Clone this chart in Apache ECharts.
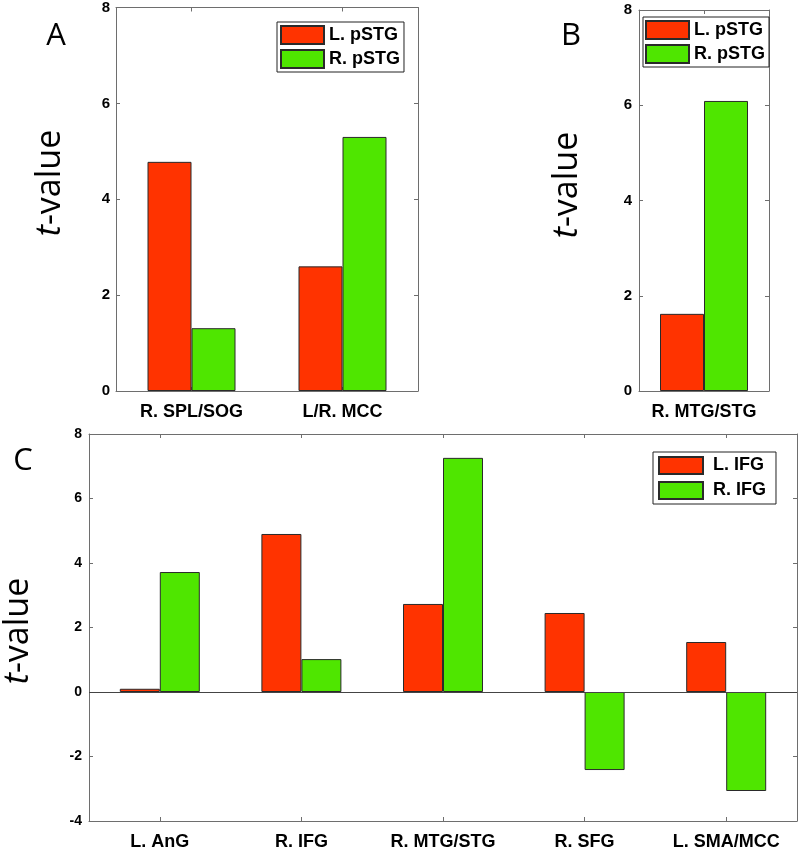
<!DOCTYPE html>
<html>
<head>
<meta charset="utf-8">
<script src="https://cdn.jsdelivr.net/npm/echarts@6/dist/echarts.min.js"></script>
<style>html,body{margin:0;padding:0;background:#fff;}#c{width:800px;height:852px;}</style>
</head>
<body>
<div id="c"></div>
<script>
// ---- data ----
const catsA = ['R. SPL/SOG', 'L/R. MCC'];
const lPstgA = [4.78, 2.6];
const rPstgA = [1.31, 5.3];
const catsB = ['R. MTG/STG'];
const lPstgB = [1.62];
const rPstgB = [6.09];
const catsC = ['L. AnG', 'R. IFG', 'R. MTG/STG', 'R. SFG', 'L. SMA/MCC'];
const lIfgC = [0.1, 4.9, 2.73, 2.45, 1.55];
const rIfgC = [3.72, 1.02, 7.26, -2.42, -3.07];
const ticksAB = [0, 2, 4, 6, 8];
const ticksC = [-4, -2, 0, 2, 4, 6, 8];

const RED = '#ff3300', GREEN = '#4fe600';
const AX = '#6e6e6e';
const FONT = '"Liberation Sans", Arial, sans-serif';

function catAxis(gi, data, pos, showLabel, fs) {
  return {
    type: 'category', gridIndex: gi, data: data, position: pos,
    axisLine: { show: true, onZero: false, lineStyle: { color: AX, width: 1 } },
    axisTick: { show: true, inside: true, alignWithLabel: true, length: 4, lineStyle: { color: AX } },
    axisLabel: { show: showLabel, fontFamily: FONT, fontWeight: 'bold', fontSize: fs, color: '#000', margin: 12 },
    splitLine: { show: false }
  };
}
function valAxis(gi, ticks, pos, showLabel, fs, margin) {
  return {
    type: 'value', gridIndex: gi, position: pos,
    min: ticks[0], max: ticks[ticks.length - 1], interval: ticks[1] - ticks[0],
    axisLine: { show: true, onZero: false, lineStyle: { color: AX, width: 1 } },
    axisTick: { show: true, inside: true, length: 4, lineStyle: { color: AX } },
    axisLabel: { show: showLabel, fontFamily: FONT, fontWeight: 'bold', fontSize: fs, color: '#000', margin: margin },
    splitLine: { show: false }
  };
}
function bar(name, data, xi, yi, color, bw) {
  return {
    type: 'bar', name: name, data: data, xAxisIndex: xi, yAxisIndex: yi,
    barWidth: bw, barGap: '0%',
    itemStyle: { color: color, borderColor: '#2a2a2a', borderWidth: 1 },
    emphasis: { disabled: true }, animation: false
  };
}
function legend(names, left, top, opts) {
  return Object.assign({
    data: names, orient: 'vertical', left: left, top: top,
    icon: 'rect', itemWidth: 43, itemHeight: 18, itemGap: 4,
    borderColor: '#222', borderWidth: 1, backgroundColor: '#fff',
    padding: [3, 4, 3, 3], selectedMode: false,
    textStyle: { fontFamily: FONT, fontWeight: 'bold', fontSize: 18, color: '#000' }
  }, opts || {});
}
function ytitle(x, y) {
  return {
    type: 'text', x: x, y: y, rotation: Math.PI / 2, silent: true,
    style: {
      text: '{i|t}-value', align: 'center', verticalAlign: 'middle',
      fontFamily: '"Open Sans", sans-serif', fontSize: 34, fill: '#000',
      rich: { i: { fontStyle: 'italic', fontFamily: '"Open Sans", sans-serif', fontSize: 34, fill: '#000' } }
    }
  };
}
function letter(t, x, y) {
  return {
    type: 'text', x: x, y: y, silent: true,
    style: { text: t, align: 'center', verticalAlign: 'middle', fontFamily: '"Open Sans", sans-serif', fontSize: 31, fill: '#000' }
  };
}

const chart = echarts.init(document.getElementById('c'), null, { renderer: 'canvas' });
const zeroLine = {
  silent: true, symbol: ['none', 'none'], label: { show: false },
  lineStyle: { color: '#444', width: 1, type: 'solid' },
  data: [{ yAxis: 0 }], animation: false
};
const sC1 = bar('L. IFG', lIfgC, 4, 4, RED, 40);
sC1.markLine = zeroLine;

chart.setOption({
  animation: false,
  backgroundColor: '#fff',
  grid: [
    { left: 116, top: 6, width: 302, height: 385 },
    { left: 639, top: 10, width: 130, height: 381 },
    { left: 89, top: 434, width: 708, height: 387 }
  ],
  xAxis: [
    catAxis(0, catsA, 'bottom', true, 18),
    catAxis(0, catsA, 'top', false, 18),
    catAxis(1, catsB, 'bottom', true, 18),
    catAxis(1, catsB, 'top', false, 18),
    catAxis(2, catsC, 'bottom', true, 18),
    catAxis(2, catsC, 'top', false, 18)
  ],
  yAxis: [
    valAxis(0, ticksAB, 'left', true, 15, 6),
    valAxis(0, ticksAB, 'right', false, 15, 6),
    valAxis(1, ticksAB, 'left', true, 15, 7),
    valAxis(1, ticksAB, 'right', false, 15, 7),
    valAxis(2, ticksC, 'left', true, 14, 7),
    valAxis(2, ticksC, 'right', false, 14, 7)
  ],
  legend: [
    legend(['L. pSTG', 'R. pSTG'], 277, 22),
    legend(['L. pSTG', 'R. pSTG'], 643, 17, { padding: [3, 4, 3, 2] }),
    legend(['L. IFG', 'R. IFG'], 653, 452, { itemWidth: 44, itemHeight: 17, itemGap: 6, padding: [4, 10, 4, 5],
      textStyle: { fontFamily: FONT, fontWeight: 'bold', fontSize: 18, color: '#000', padding: [0, 0, 0, 5] } })
  ],
  series: [
    bar('L. pSTG', lPstgA, 0, 0, RED, 44),
    bar('R. pSTG', rPstgA, 0, 0, GREEN, 44),
    bar('L. pSTG', lPstgB, 2, 2, RED, 44),
    bar('R. pSTG', rPstgB, 2, 2, GREEN, 44),
    sC1,
    bar('R. IFG', rIfgC, 4, 4, GREEN, 40)
  ],
  graphic: [
    letter('A', 56, 36), letter('B', 571, 36), letter('C', 23, 461),
    ytitle(50, 183), ytitle(567, 185), ytitle(18, 631)
  ]
});
</script>
</body>
</html>
